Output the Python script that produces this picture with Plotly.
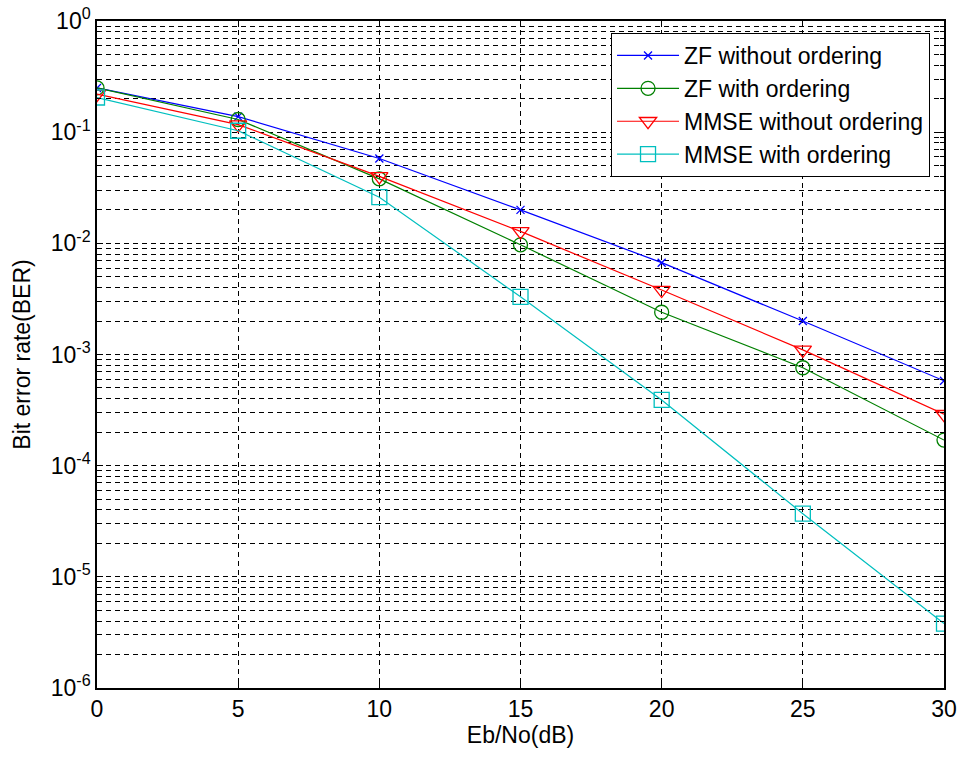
import plotly.graph_objects as go

ebno = [0, 5, 10, 15, 20, 25, 30]
zf_no = [0.25, 0.138, 0.058, 0.020, 0.0067, 0.0020, 0.00058]
zf_ord = [0.25, 0.13, 0.038, 0.0097, 0.0024, 0.00076, 0.00017]
mmse_no = [0.22, 0.117, 0.040, 0.0128, 0.0038, 0.0011, 0.00029]
mmse_ord = [0.205, 0.103, 0.026, 0.0033, 0.00039, 3.7e-5, 3.8e-6]

names = ["ZF without ordering", "ZF with ordering", "MMSE without ordering", "MMSE with ordering"]
colors = ["#0000ff", "#008000", "#ff0000", "#00bfbf"]
symbols = ["x-thin-open", "circle-open", "triangle-down-open", "square-open"]
sizes = [8, 14, 15, 15]
series = [zf_no, zf_ord, mmse_no, mmse_ord]

ytick_vals = [1e-6, 1e-5, 1e-4, 1e-3, 1e-2, 1e-1, 1]
ytick_text = ["10<sup>-6</sup>", "10<sup>-5</sup>", "10<sup>-4</sup>", "10<sup>-3</sup>",
              "10<sup>-2</sup>", "10<sup>-1</sup>", "10<sup>0</sup>"]
minor_vals = [m * 10 ** e for e in range(-6, 0) for m in range(2, 10)]

fig = go.Figure()
for name, col, sym, sz, ys in zip(names, colors, symbols, sizes, series):
    fig.add_trace(go.Scatter(
        x=ebno, y=ys, name=name, mode="lines+markers",
        line=dict(color=col, width=1.2),
        marker=dict(symbol=sym, size=sz, color=col, line=dict(color=col, width=1.3)),
    ))

font = "Liberation Sans, Arial, sans-serif"
dash = "5px,4px"
fig.update_layout(
    width=960, height=762,
    margin=dict(l=97, r=16, t=21, b=74),
    paper_bgcolor="white", plot_bgcolor="white",
    font=dict(family=font, size=23, color="black"),
    showlegend=True,
    legend=dict(x=0.9835, y=0.982, xanchor="right", yanchor="top",
                bgcolor="white", bordercolor="black", borderwidth=1,
                font=dict(size=23), tracegroupgap=0, itemwidth=62),
    xaxis=dict(
        range=[0, 30], tickvals=[0, 5, 10, 15, 20, 25, 30],
        showgrid=True, gridcolor="black", griddash=dash, gridwidth=1,
        ticks="inside", ticklen=6, tickcolor="black",
        showline=True, linecolor="black", linewidth=1.5, mirror="ticks",
        zeroline=False, automargin=False,
        title=dict(text="Eb/No(dB)", font=dict(size=23), standoff=4),
        tickfont=dict(size=23),
    ),
    yaxis=dict(
        type="log", range=[-6, 0],
        tickvals=ytick_vals, ticktext=ytick_text,
        showgrid=True, gridcolor="black", griddash=dash, gridwidth=1,
        ticks="inside", ticklen=6, tickcolor="black",
        showline=True, linecolor="black", linewidth=1.5, mirror="ticks",
        zeroline=False, automargin=False,
        minor=dict(tickvals=minor_vals, showgrid=True, gridcolor="black",
                   griddash=dash, gridwidth=1, ticks="inside", ticklen=4,
                   tickcolor="black"),
        title=dict(text="Bit error rate(BER)", font=dict(size=23), standoff=14),
        tickfont=dict(size=23),
    ),
)

fig.write_html("out.html")
